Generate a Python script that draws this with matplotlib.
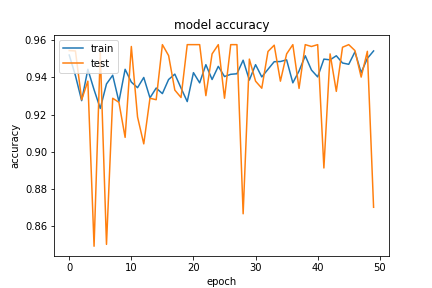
import matplotlib
matplotlib.use("Agg")
import matplotlib.pyplot as plt

epochs = list(range(50))
train_acc = [0.9521, 0.9410, 0.9275, 0.9444, 0.9334, 0.9233, 0.9365, 0.9412, 0.9270, 0.9444,
             0.9375, 0.9345, 0.9400, 0.9290, 0.9343, 0.9313, 0.9389, 0.9418, 0.9343, 0.9270,
             0.9426, 0.9371, 0.9469, 0.9389, 0.9460, 0.9405, 0.9417, 0.9420, 0.9493, 0.9386,
             0.9469, 0.9403, 0.9444, 0.9485, 0.9486, 0.9495, 0.9371, 0.9435, 0.9517, 0.9440,
             0.9403, 0.9499, 0.9495, 0.9517, 0.9478, 0.9471, 0.9538, 0.9426, 0.9503, 0.9543]
test_acc = [0.9545, 0.9543, 0.9280, 0.9380, 0.8490, 0.9536, 0.8500, 0.9288, 0.9266, 0.9077,
            0.9567, 0.9187, 0.9042, 0.9288, 0.9280, 0.9577, 0.9518, 0.9332, 0.9292, 0.9577,
            0.9577, 0.9577, 0.9302, 0.9527, 0.9577, 0.9288, 0.9577, 0.9577, 0.8665, 0.9499,
            0.9380, 0.9342, 0.9540, 0.9574, 0.9380, 0.9527, 0.9577, 0.9341, 0.9577, 0.9567,
            0.9577, 0.8912, 0.9527, 0.9325, 0.9563, 0.9577, 0.9545, 0.9402, 0.9541, 0.8700]

fig = plt.figure(figsize=(6, 4), dpi=72)
plt.plot(epochs, train_acc)
plt.plot(epochs, test_acc)
plt.title('model accuracy')
plt.ylabel('accuracy')
plt.xlabel('epoch')
plt.legend(['train', 'test'], loc='upper left')
plt.savefig('out.png', dpi=72)
